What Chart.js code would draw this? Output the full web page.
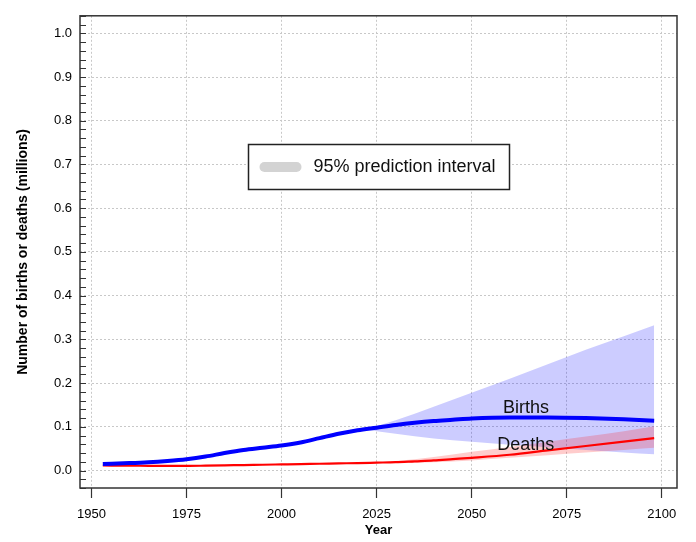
<!DOCTYPE html>
<html>
<head>
<meta charset="utf-8">
<title>Births and deaths</title>
<script src="https://cdn.jsdelivr.net/npm/chart.js@4.4.1/dist/chart.umd.min.js"></script>
<style>
  html, body { margin: 0; padding: 0; background: #fff; }
  canvas { display: block; }
</style>
</head>
<body>
<canvas id="birthsDeathsChart" width="696" height="542"></canvas>
<script>
/* ========================================
   Births and deaths with 95% prediction interval
   ======================================== */

// Estimates and projections (millions)
const years = [1953, 1960, 1965, 1970, 1975, 1980, 1985, 1990, 1995, 2000, 2005, 2010,
  2015, 2020, 2025, 2030, 2035, 2040, 2045, 2050, 2060, 2070, 2080, 2090, 2098];
const births = [0.015, 0.017, 0.019, 0.022, 0.026, 0.032, 0.040, 0.047, 0.052, 0.057, 0.064, 0.074,
  0.084, 0.092, 0.098, 0.104, 0.109, 0.113, 0.116, 0.119, 0.1215, 0.1215, 0.120, 0.117, 0.114];
const deaths = [0.0115, 0.011, 0.0108, 0.0105, 0.0105, 0.011, 0.0117, 0.0125, 0.0132, 0.014, 0.0148, 0.0155,
  0.0163, 0.017, 0.018, 0.019, 0.021, 0.023, 0.026, 0.029, 0.036, 0.046, 0.056, 0.066, 0.074];

// 95% prediction intervals
const bandYears = [2022, 2030, 2040, 2050, 2060, 2070, 2080, 2090, 2098];
const birthsUpper = [0.094, 0.115, 0.146, 0.178, 0.210, 0.243, 0.276, 0.307, 0.332];
const birthsLower = [0.094, 0.084, 0.073, 0.066, 0.059, 0.053, 0.047, 0.041, 0.037];
const deathsUpper = [0.0175, 0.022, 0.031, 0.043, 0.054, 0.066, 0.078, 0.090, 0.101];
const deathsLower = [0.0175, 0.017, 0.019, 0.023, 0.029, 0.035, 0.041, 0.047, 0.052];

// Axis ticks
const xTicks = [1950, 1975, 2000, 2025, 2050, 2075, 2100];
const yTickLabels = ['0.0', '0.1', '0.2', '0.3', '0.4', '0.5', '0.6', '0.7', '0.8', '0.9', '1.0'];

// Series labels placed on the plot (year, value)
const seriesLabels = [
  { text: 'Births', x: 2064.3, y: 0.142 },
  { text: 'Deaths', x: 2064.2, y: 0.058 }
];
const legendText = '95% prediction interval';

const FONT = "'Liberation Sans', Arial, Helvetica, sans-serif";
const COLORS = {
  births: '#0000ff',
  deaths: '#ff0000',
  birthsBand: 'rgba(0, 0, 255, 0.2)',
  deathsBand: 'rgba(255, 0, 0, 0.2)',
  grid: '#c8c8c8',
  frame: '#333333',
  text: '#000000'
};

function toPoints(xs, ys) {
  return xs.map((x, i) => ({ x: x, y: ys[i] }));
}

function isMajorY(v) {
  return Math.round(v * 50) % 5 === 0;
}

// Frame, inner y ticks, series labels and legend box
const decorPlugin = {
  id: 'decor',
  afterDraw(chart) {
    const { ctx, chartArea: a, scales } = chart;
    const ys = scales.y;
    const xs = scales.x;
    ctx.save();

    // inner tick marks on the y axis
    ctx.strokeStyle = COLORS.frame;
    ctx.lineWidth = 1;
    ys.ticks.forEach(t => {
      const py = Math.round(ys.getPixelForValue(t.value)) + 0.5;
      ctx.beginPath();
      ctx.moveTo(a.left, py);
      ctx.lineTo(a.left + 6, py);
      ctx.stroke();
    });

    // plot frame
    ctx.lineWidth = 1.5;
    ctx.strokeRect(a.left, a.top, a.right - a.left, a.bottom - a.top);

    // series labels
    ctx.fillStyle = '#111';
    ctx.font = '18px ' + FONT;
    ctx.textAlign = 'center';
    ctx.textBaseline = 'middle';
    seriesLabels.forEach(l => {
      ctx.fillText(l.text, xs.getPixelForValue(l.x), ys.getPixelForValue(l.y));
    });

    // legend box
    const bx = 248.5, by = 144.5, bw = 261, bh = 45;
    ctx.fillStyle = '#fff';
    ctx.fillRect(bx, by, bw, bh);
    ctx.strokeStyle = '#222';
    ctx.lineWidth = 1.5;
    ctx.strokeRect(bx, by, bw, bh);
    ctx.strokeStyle = '#d3d3d3';
    ctx.lineWidth = 10;
    ctx.lineCap = 'round';
    ctx.beginPath();
    ctx.moveTo(bx + 16, by + 22.5);
    ctx.lineTo(bx + 48, by + 22.5);
    ctx.stroke();
    ctx.fillStyle = '#111';
    ctx.textAlign = 'left';
    ctx.fillText(legendText, bx + 65, by + 23);

    ctx.restore();
  }
};

function bandDataset(xs, ys, color, fill) {
  return {
    data: toPoints(xs, ys),
    borderWidth: 0,
    borderColor: 'transparent',
    backgroundColor: color,
    pointRadius: 0,
    cubicInterpolationMode: 'monotone',
    fill: fill
  };
}

function initializeChart() {
  const ctx = document.getElementById('birthsDeathsChart');

  const config = {
    type: 'line',
    data: {
      datasets: [
        {
          label: 'Births',
          data: toPoints(years, births),
          borderColor: COLORS.births,
          borderWidth: 4,
          pointRadius: 0,
          cubicInterpolationMode: 'monotone',
          fill: false
        },
        {
          label: 'Deaths',
          data: toPoints(years, deaths),
          borderColor: COLORS.deaths,
          borderWidth: 2.2,
          pointRadius: 0,
          cubicInterpolationMode: 'monotone',
          fill: false
        },
        // drawn in reverse order: births band first, deaths band over it
        bandDataset(bandYears, deathsUpper, COLORS.deathsBand, '+1'),
        bandDataset(bandYears, deathsLower, COLORS.deathsBand, false),
        bandDataset(bandYears, birthsUpper, COLORS.birthsBand, '+1'),
        bandDataset(bandYears, birthsLower, COLORS.birthsBand, false)
      ]
    },
    options: {
      responsive: false,
      animation: false,
      layout: { padding: { top: 5, right: 19, left: 0, bottom: 0 } },
      plugins: {
        legend: { display: false },
        tooltip: { enabled: false }
      },
      scales: {
        x: {
          type: 'linear',
          min: 1947,
          max: 2104,
          afterBuildTicks: scale => {
            scale.ticks = xTicks.map(v => ({ value: v }));
          },
          afterFit: scale => { scale.height = 54; },
          ticks: {
            color: COLORS.text,
            font: { family: FONT, size: 13 },
            padding: 9,
            maxRotation: 0,
            autoSkip: false,
            callback: value => String(value)
          },
          grid: {
            color: COLORS.grid,
            lineWidth: 1,
            drawTicks: true,
            tickLength: 10,
            tickColor: COLORS.frame,
            tickWidth: 1.2,
            tickBorderDash: []
          },
          border: { display: false, dash: [2, 2] },
          title: {
            display: true,
            text: 'Year',
            color: COLORS.text,
            font: { family: FONT, size: 13, weight: 'bold' },
            padding: { top: 0, bottom: 4 }
          }
        },
        y: {
          type: 'linear',
          min: -0.04,
          max: 1.04,
          afterBuildTicks: scale => {
            const ticks = [];
            for (let i = -2; i <= 52; i++) ticks.push({ value: i / 50 });
            scale.ticks = ticks;
          },
          afterFit: scale => { scale.width = 80; },
          ticks: {
            color: COLORS.text,
            font: { family: FONT, size: 13 },
            padding: 8,
            autoSkip: false,
            callback: value => {
              if (!isMajorY(value)) return '';
              const idx = Math.round(value * 10);
              return yTickLabels[idx] !== undefined ? yTickLabels[idx] : '';
            }
          },
          grid: {
            color: c => (c.tick && isMajorY(c.tick.value) ? COLORS.grid : 'rgba(0,0,0,0)'),
            lineWidth: 1,
            drawTicks: false
          },
          border: { display: false, dash: [2, 2] },
          title: {
            display: true,
            text: 'Number of births or deaths (millions)',
            color: COLORS.text,
            font: { family: FONT, size: 14, weight: 'bold' },
            padding: { top: 15, bottom: 0 }
          }
        }
      }
    },
    plugins: [decorPlugin]
  };

  return new Chart(ctx, config);
}

initializeChart();
</script>
</body>
</html>
